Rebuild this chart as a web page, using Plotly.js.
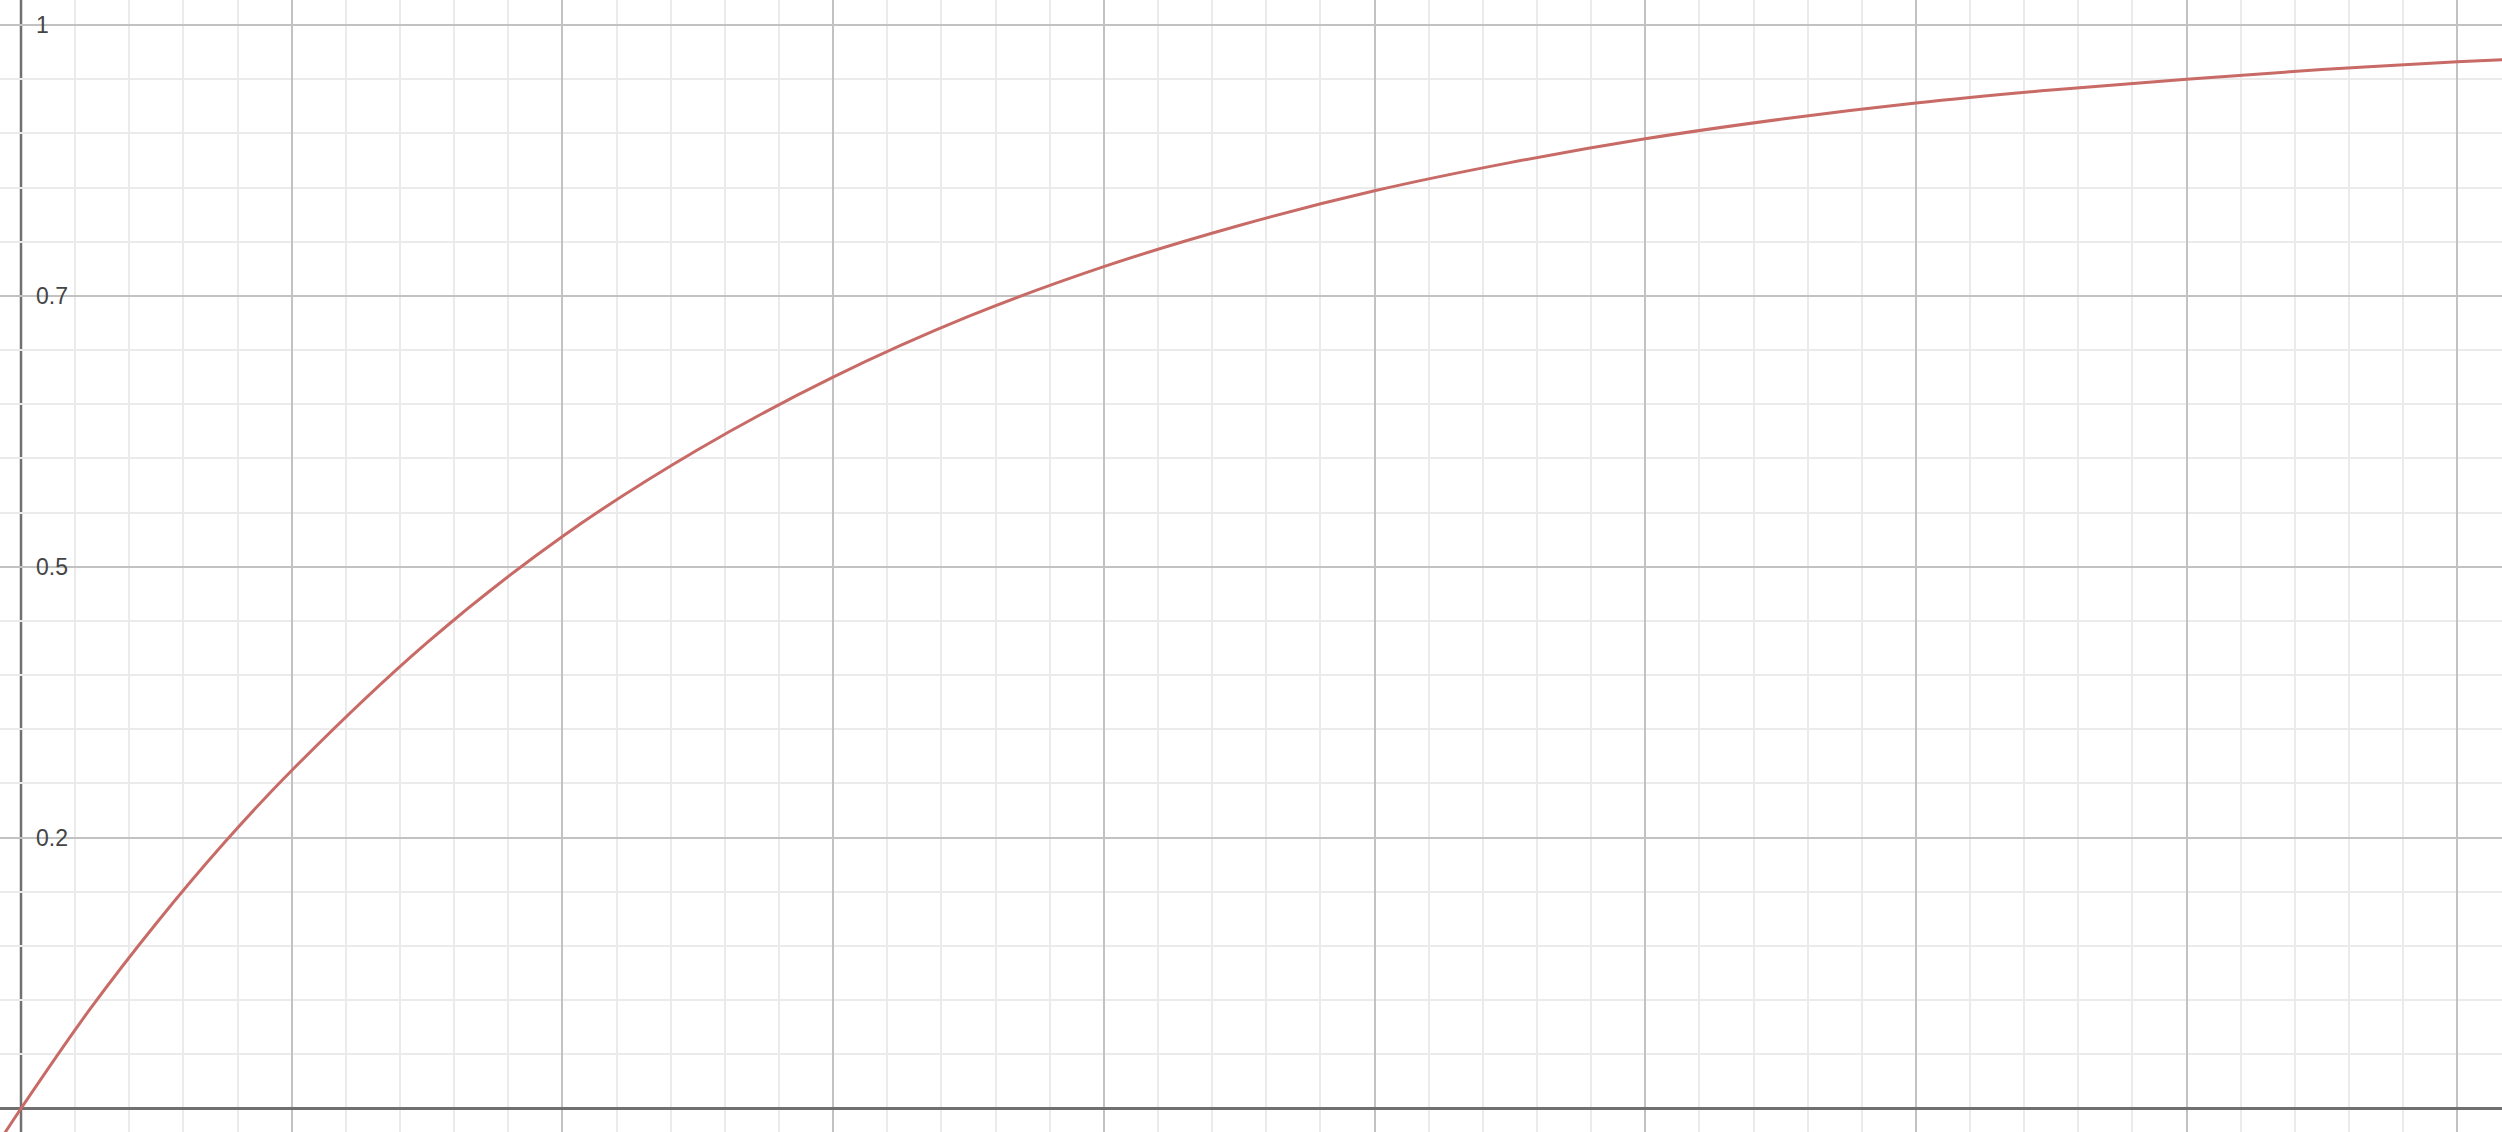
<!DOCTYPE html>
<html>
<head>
<meta charset="utf-8">
<script src="https://cdn.plot.ly/plotly-3.0.1.min.js"></script>
<style>
html,body{margin:0;padding:0;background:#fff;}
#chart{width:2502px;height:1132px;}
</style>
</head>
<body>
<div id="chart"></div>
<script>
// Values
const xValues = [-0.1, 0, 0.25, 0.5, 0.75, 1, 1.5, 2, 2.5, 3, 3.5, 4, 4.5, 5, 5.5, 6, 6.5, 7, 7.5, 8, 8.5, 9, 9.25];
const yValues = [-0.038, 0, 0.090, 0.171, 0.245, 0.312, 0.430, 0.528, 0.608, 0.675, 0.731, 0.777, 0.815, 0.847, 0.873, 0.895, 0.913, 0.928, 0.940, 0.950, 0.959, 0.966, 0.969];
const yTickValues = [0.25, 0.5, 0.75, 1];
const yTickLabels = ['0.2', '0.5', '0.7', '1'];
const axisOrigin = 0;

const trace = {
  x: xValues,
  y: yValues,
  type: 'scatter',
  mode: 'lines',
  line: {color: '#c86a66', width: 3, shape: 'spline', smoothing: 1},
  hoverinfo: 'skip'
};

const layout = {
  width: 2502,
  height: 1132,
  margin: {l: 0, r: 0, t: 0, b: 0, pad: 0},
  paper_bgcolor: '#ffffff',
  plot_bgcolor: '#ffffff',
  showlegend: false,
  font: {family: 'Liberation Sans, Arial, sans-serif', color: '#222222', size: 23},
  xaxis: {
    range: [-0.0776, 9.165],
    tickmode: 'linear', tick0: 0, dtick: 1,
    showticklabels: false,
    ticks: '',
    showgrid: true, gridcolor: '#c2c2c2', gridwidth: 2,
    minor: {tickmode: 'linear', tick0: 0, dtick: 0.2, showgrid: true, gridcolor: '#ebebeb', gridwidth: 2, ticks: ''},
    zeroline: true, zerolinecolor: '#707070', zerolinewidth: 2.5,
    showline: false,
    fixedrange: true
  },
  yaxis: {
    range: [-0.0217, 1.0231],
    tickmode: 'array', tickvals: yTickValues, ticktext: yTickLabels,
    ticklabelposition: 'inside',
    ticklabelstandoff: 33,
    ticks: '',
    showgrid: true, gridcolor: '#c2c2c2', gridwidth: 2,
    minor: {tickmode: 'linear', tick0: 0, dtick: 0.05, showgrid: true, gridcolor: '#ebebeb', gridwidth: 2, ticks: ''},
    zeroline: true, zerolinecolor: '#707070', zerolinewidth: 2.5,
    showline: false,
    fixedrange: true
  },
  shapes: [{
    type: 'line', layer: 'below',
    xref: 'x', yref: 'paper',
    x0: axisOrigin, x1: axisOrigin, y0: 0, y1: 1,
    line: {color: '#707070', width: 2.5}
  }]
};

Plotly.newPlot('chart', [trace], layout, {displayModeBar: false, staticPlot: true});
</script>
</body>
</html>
